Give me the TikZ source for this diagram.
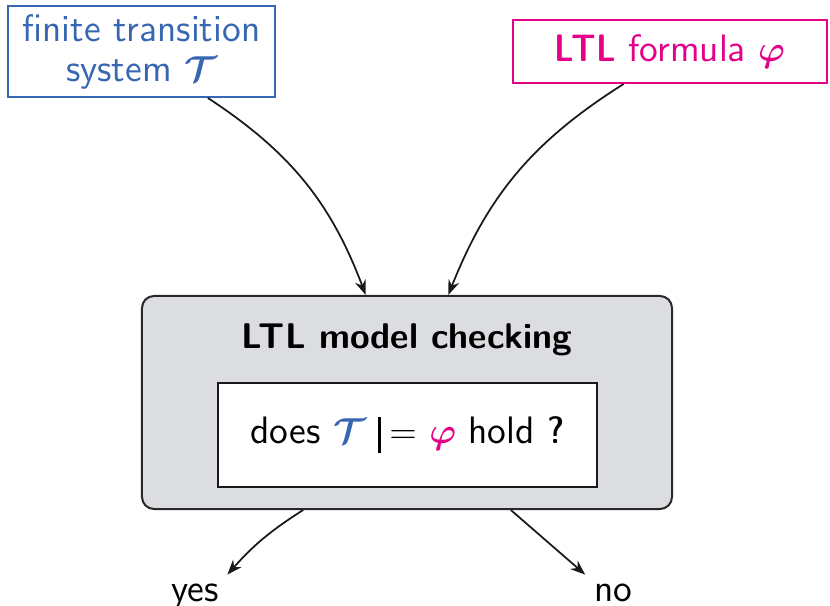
\documentclass[tikz,border=0pt]{standalone}
\usepackage{amsmath}
\usepackage{tikz}
\usetikzlibrary{arrows.meta, positioning, calc}
\usepackage{xcolor}
\definecolor{tsblue}{RGB}{55, 102, 178}
\definecolor{ltlpink}{RGB}{228, 0, 137}
\definecolor{boxgray}{RGB}{220, 221, 224}
\definecolor{edgegray}{RGB}{40, 40, 40}

\renewcommand{\familydefault}{\sfdefault}
\newcommand{\semibold}{\fontseries{sbc}\selectfont}
\newcommand{\holds}{\mathrel{\rule[-0.26em]{0.08em}{0.95em}\mkern-1mu=}}

\begin{document}
\begin{tikzpicture}[
    x=0.4pt, y=0.4pt,
    font=\fontsize{15.3}{16}\selectfont,
    % input boxes
    inbox/.style={
        rectangle, draw, line width=0.8pt, fill=white,
        align=center, inner sep=2pt
    },
    % model checker
    checker/.style={
        rectangle, rounded corners=4.8pt, draw=edgegray, line width=0.8pt,
        fill=boxgray, minimum width=212pt, minimum height=85.2pt
    },
    question/.style={
        rectangle, draw=black!90, line width=1.1pt, fill=white,
        minimum width=151.6pt, minimum height=41.6pt
    },
    arrow/.style={-{Stealth[length=6pt, width=4.5pt]}, line width=0.7pt, black!90},
]
\useasboundingbox (0,0) rectangle (830,605);

% inputs
\node[inbox, draw=tsblue, text=tsblue, minimum width=106.4pt, minimum height=36.4pt]
    (ts) at (141.5,553.5) {finite transition\\system $\boldsymbol{\mathcal{T}}$};
\node[inbox, draw=ltlpink, text=ltlpink, minimum width=125.6pt, minimum height=25.2pt]
    (ltl) at (670,553.5) {{\semibold LTL} formula $\boldsymbol{\varphi}$};

% checker
\node[checker] (mc) at (407,202.5) {};
\node[font=\fontsize{14.3}{16}\selectfont\bfseries] (title) at (407,265) {LTL model checking};
\node[question] (ask) at (407.5,170)
    {does $\color{tsblue}\boldsymbol{\mathcal{T}}$ $\holds$ $\color{ltlpink}\boldsymbol{\varphi}$ hold {\semibold ?}};

% outputs
\node[anchor=base] (yes) at (195,4) {yes};
\node[anchor=base] (no) at (613,4) {no};

% arrows
\draw[arrow] (ts.-35) to[bend left=18] (mc.111);
\draw[arrow] (ltl.-145) to[bend right=18] (mc.69);
\draw[arrow] (mc.-134) to[bend right=8] (yes.north east);
\draw[arrow] (mc.-46) -- (no.north west);

\end{tikzpicture}
\end{document}
